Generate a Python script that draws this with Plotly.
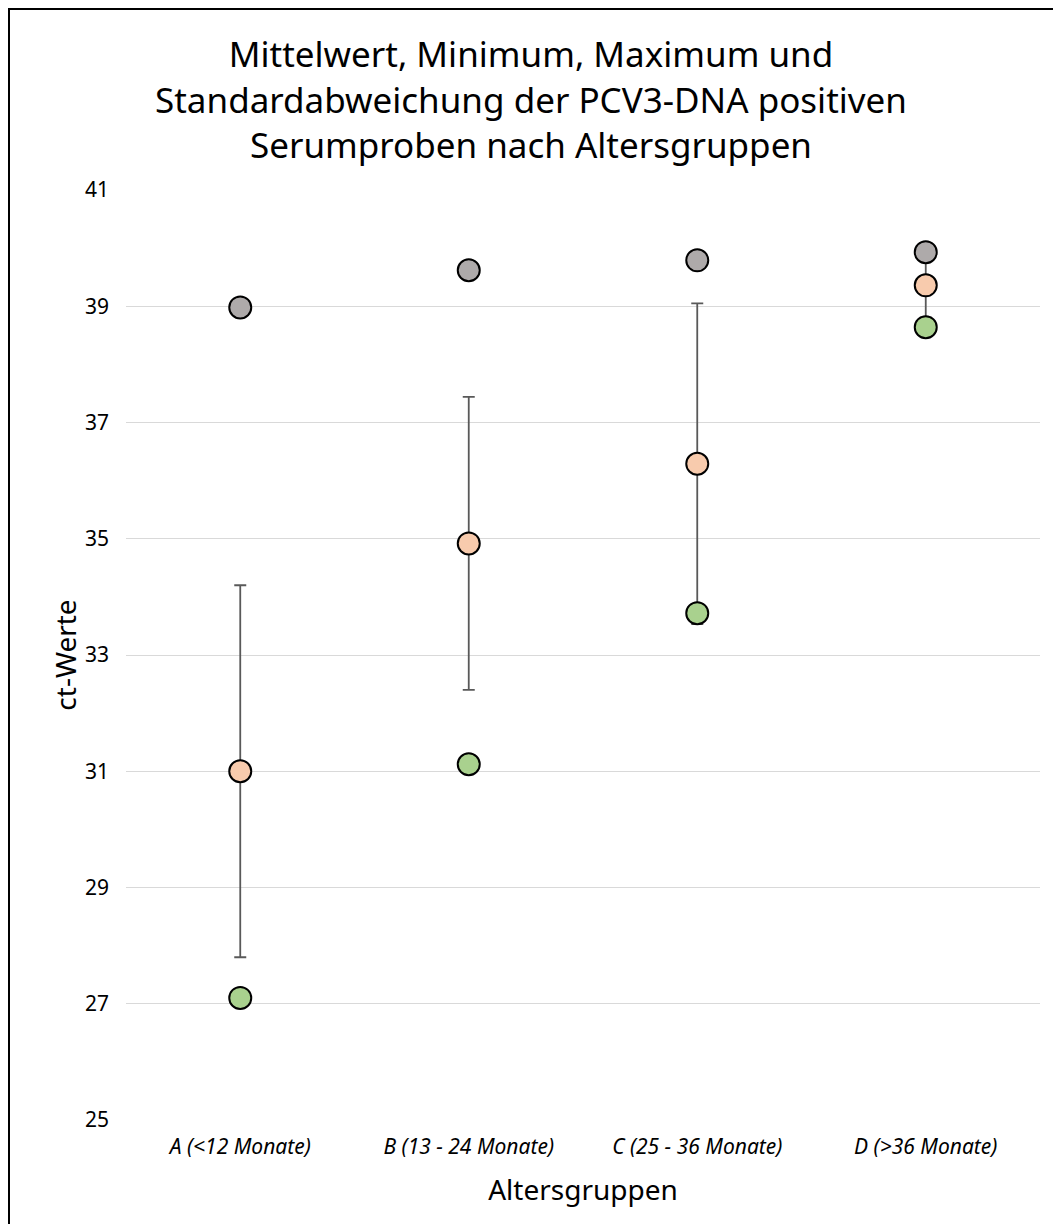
import plotly.graph_objects as go

categories = ["A (<12 Monate)", "B (13 - 24 Monate)", "C (25 - 36 Monate)", "D (>36 Monate)"]
maximum = [38.98, 39.62, 39.79, 39.93]
mittelwert = [31.0, 34.92, 36.29, 39.36]
minimum = [27.1, 31.12, 33.72, 38.64]
stdabw = [3.2, 2.52, 2.76, 0.55]
y_ticks = [25, 27, 29, 31, 33, 35, 37, 39, 41]

# page has an 8px body margin, so the figure is sized/offset to compensate
W, H = 1053, 1216
ML, MR, MT, MB = 118, 21, 182, 104
FONT = "Noto Sans"

fig = go.Figure()

fig.add_trace(go.Scatter(
    x=categories, y=mittelwert, mode="markers", name="Mittelwert",
    marker=dict(size=22, color="#F8CBAD", line=dict(color="black", width=2)),
    error_y=dict(type="data", array=stdabw, visible=True, color="#595959",
                 thickness=1.8, width=6),
))
fig.add_trace(go.Scatter(
    x=categories, y=maximum, mode="markers", name="Maximum",
    marker=dict(size=22, color="#AEAAAA", line=dict(color="black", width=2)),
))
fig.add_trace(go.Scatter(
    x=categories, y=minimum, mode="markers", name="Minimum",
    marker=dict(size=22, color="#A9D18E", line=dict(color="black", width=2)),
))

pw = W - ML - MR
ph = H - MT - MB
fig.add_shape(type="rect", xref="paper", yref="paper",
              x0=(1 - ML) / pw, x1=2, y0=-1, y1=(ph + MT - 1) / ph,
              line=dict(color="black", width=2), fillcolor="rgba(0,0,0,0)", layer="above")

fig.update_layout(
    width=W, height=H,
    margin=dict(l=ML, r=MR, t=MT, b=MB),
    paper_bgcolor="white", plot_bgcolor="white",
    showlegend=False,
    font=dict(family=FONT, color="black"),
    title=dict(
        text="Mittelwert, Minimum, Maximum und<br>Standardabweichung der PCV3-DNA positiven<br>Serumproben nach Altersgruppen",
        x=(523 - ML) / pw, xanchor="center", xref="paper",
        y=1 - 59 / H, yanchor="middle", yref="container",
        font=dict(family=FONT, size=35, color="black"),
    ),
    xaxis=dict(
        type="category", range=[-0.5, 3.5], showgrid=False, zeroline=False, showline=False,
        tickfont=dict(family=FONT, size=21, style="italic", color="black"),
        ticklabelstandoff=12,
        title=dict(text="Altersgruppen", font=dict(family=FONT, size=28, color="black"), standoff=21),
    ),
    yaxis=dict(
        range=[25, 41], tickvals=y_ticks, showgrid=True, gridcolor="#D9D9D9", gridwidth=1.3,
        zeroline=False, showline=False,
        tickfont=dict(family=FONT, size=21, color="black"),
        ticklabelstandoff=16,
        title=dict(text="ct-Werte", font=dict(family=FONT, size=28, color="black"), standoff=0),
    ),
)

fig.write_html("out.html")
